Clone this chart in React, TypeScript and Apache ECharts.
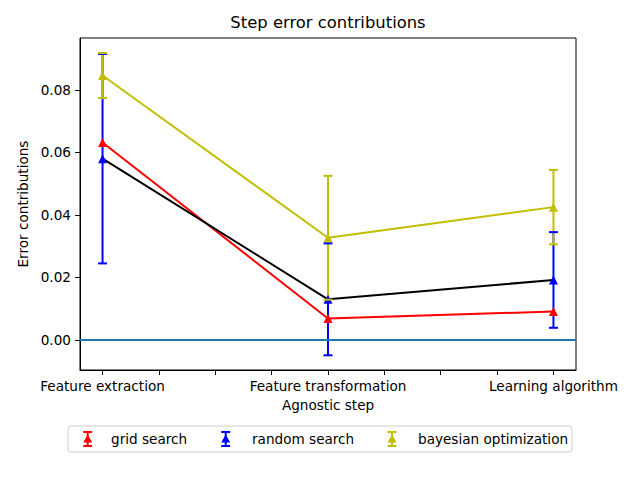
import React, { useEffect, useRef } from "react";
import * as echarts from "echarts";

const categories = ["Feature extraction", "Feature transformation", "Learning algorithm"];
const xPositions = [0, 1, 2];
const xTickValues = [0, 0.25, 0.5, 0.75, 1, 1.25, 1.5, 1.75, 2];
const yTickValues = [0, 0.02, 0.04, 0.06, 0.08];

const gridValues = [0.0632, 0.0069, 0.0091];
const gridErr = [0, 0, 0];
const randomValues = [0.058, 0.013, 0.0192];
const randomErr = [0.0335, 0.0179, 0.0153];
const bayesValues = [0.0846, 0.0327, 0.0425];
const bayesErr = [0.0072, 0.0198, 0.0119];

const seriesNames = ["grid search", "random search", "bayesian optimization"];
const RED = "#ff0000";
const BLUE = "#0000ff";
const YEL = "#bfbf00";
const FONT = "DejaVu Sans";

function errData(vals: number[], errs: number[]) {
  return xPositions
    .map((x, i) => [x, vals[i] - errs[i], vals[i] + errs[i]])
    .filter((d, i) => errs[i] > 0);
}

function barSeries(vals: number[], errs: number[], color: string, z: number) {
  return {
    type: "custom",
    z,
    silent: true,
    data: errData(vals, errs),
    encode: { x: 0, y: [1, 2] },
    renderItem: (params: any, api: any) => {
      const x = api.value(0);
      const p1 = api.coord([x, api.value(1)]);
      const p2 = api.coord([x, api.value(2)]);
      return {
        type: "line",
        shape: { x1: p1[0], y1: p1[1], x2: p2[0], y2: p2[1] },
        style: { stroke: color, lineWidth: 2 },
      };
    },
  };
}

function capSeries(vals: number[], errs: number[], color: string, z: number) {
  return {
    type: "custom",
    z,
    silent: true,
    data: errData(vals, errs),
    encode: { x: 0, y: [1, 2] },
    renderItem: (params: any, api: any) => {
      const x = api.value(0);
      const p1 = api.coord([x, api.value(1)]);
      const p2 = api.coord([x, api.value(2)]);
      const w = 4.5;
      return {
        type: "group",
        children: [
          { type: "line", shape: { x1: p1[0] - w, y1: p1[1], x2: p1[0] + w, y2: p1[1] }, style: { stroke: color, lineWidth: 2 } },
          { type: "line", shape: { x1: p2[0] - w, y1: p2[1], x2: p2[0] + w, y2: p2[1] }, style: { stroke: color, lineWidth: 2 } },
        ],
      };
    },
  };
}

function lineSeries(name: string, vals: number[], lineColor: string, markerColor: string, z: number) {
  return {
    type: "line",
    name,
    z,
    data: xPositions.map((x, i) => [x, vals[i]]),
    symbol: "triangle",
    symbolSize: 9,
    showAllSymbol: true,
    lineStyle: { color: lineColor, width: 2 },
    itemStyle: { color: markerColor },
    silent: true,
  };
}

function legendIcon(cx: number, cy: number, color: string) {
  return [
    { type: "line", z: 11, shape: { x1: cx, y1: cy - 7, x2: cx, y2: cy + 7 }, style: { stroke: color, lineWidth: 2 } },
    { type: "line", z: 11, shape: { x1: cx - 4.5, y1: cy - 7, x2: cx + 4.5, y2: cy - 7 }, style: { stroke: color, lineWidth: 2 } },
    { type: "line", z: 11, shape: { x1: cx - 4.5, y1: cy + 7, x2: cx + 4.5, y2: cy + 7 }, style: { stroke: color, lineWidth: 2 } },
    { type: "polygon", z: 12, shape: { points: [[cx, cy - 4.5], [cx + 4.5, cy + 3.5], [cx - 4.5, cy + 3.5]] }, style: { fill: color } },
  ];
}

export default function App() {
  const ref = useRef<HTMLDivElement>(null);
  useEffect(() => {
    if (!ref.current) return;
    const chart = echarts.init(ref.current, null, { renderer: "svg" });
    const legendY = 439;
    const iconXs = [87.7, 225.7, 392];
    const textXs = [111, 252, 418];
    const colors = [RED, BLUE, YEL];
    const icons: any[] = [];
    iconXs.forEach((x, i) => icons.push(...legendIcon(x, legendY, colors[i])));
    chart.setOption({
      animation: false,
      backgroundColor: "#ffffff",
      textStyle: { fontFamily: FONT },
      title: {
        text: "Step error contributions",
        left: 328,
        top: 14,
        padding: 0,
        textAlign: "center",
        textStyle: { fontFamily: FONT, fontSize: 16.4, fontWeight: "normal", color: "#000" },
      },
      grid: { left: 80, top: 38, width: 496, height: 332, show: true, borderColor: "#000", borderWidth: 1, backgroundColor: "transparent" },
      xAxis: {
        type: "value",
        min: -0.1,
        max: 2.1,
        name: "Agnostic step",
        nameLocation: "middle",
        nameGap: 27,
        nameTextStyle: { fontFamily: FONT, fontSize: 13.6, color: "#000", verticalAlign: "top" },
        axisLine: { show: true, onZero: false, lineStyle: { color: "#000", width: 1 } },
        axisTick: { show: true, length: 5, customValues: xTickValues, lineStyle: { color: "#000", width: 1 } },
        axisLabel: {
          show: true,
          margin: 9,
          customValues: xPositions,
          formatter: (v: number) => categories[Math.round(v)] ?? "",
          fontFamily: FONT,
          fontSize: 13.6,
          color: "#000",
        },
        splitLine: { show: false },
      },
      yAxis: {
        type: "value",
        min: -0.0096,
        max: 0.0966,
        name: "Error contributions",
        nameLocation: "middle",
        nameGap: 45,
        nameRotate: 90,
        nameTextStyle: { fontFamily: FONT, fontSize: 13.6, color: "#000" },
        axisLine: { show: true, onZero: false, lineStyle: { color: "#000", width: 1 } },
        axisTick: { show: true, length: 5, customValues: yTickValues, lineStyle: { color: "#000", width: 1 } },
        axisLabel: {
          show: true,
          margin: 9,
          customValues: yTickValues,
          formatter: (v: number) => v.toFixed(2),
          fontFamily: FONT,
          fontSize: 13.6,
          color: "#000",
        },
        splitLine: { show: false },
      },
      series: [
        barSeries(gridValues, gridErr, RED, 1),
        barSeries(randomValues, randomErr, BLUE, 1),
        barSeries(bayesValues, bayesErr, YEL, 1),
        lineSeries(seriesNames[0], gridValues, RED, RED, 2),
        lineSeries(seriesNames[1], randomValues, "#000000", BLUE, 2),
        lineSeries(seriesNames[2], bayesValues, YEL, YEL, 2),
        capSeries(gridValues, gridErr, RED, 3),
        capSeries(randomValues, randomErr, BLUE, 3),
        capSeries(bayesValues, bayesErr, YEL, 3),
        {
          type: "line",
          z: 4,
          data: [],
          silent: true,
          markLine: {
            silent: true,
            symbol: "none",
            label: { show: false },
            lineStyle: { color: "#1f77b4", width: 2, type: "solid" },
            data: [{ yAxis: 0 }],
          },
        },
      ],
      graphic: [
        {
          type: "rect",
          z: 10,
          shape: { x: 68, y: 426, width: 504, height: 26, r: 3 },
          style: { fill: "#ffffff", stroke: "#cccccc", lineWidth: 1 },
        },
        ...icons,
        ...textXs.map((x, i) => ({
          type: "text",
          x,
          y: legendY,
          z: 11,
          style: {
            text: seriesNames[i],
            fontFamily: FONT,
            fontSize: 13.6,
            fill: "#000",
            verticalAlign: "middle",
            align: "left",
          },
        })),
      ],
    });
    return () => chart.dispose();
  }, []);
  return <div ref={ref} style={{ position: "fixed", left: 0, top: 0, width: 640, height: 479 }} />;
}
